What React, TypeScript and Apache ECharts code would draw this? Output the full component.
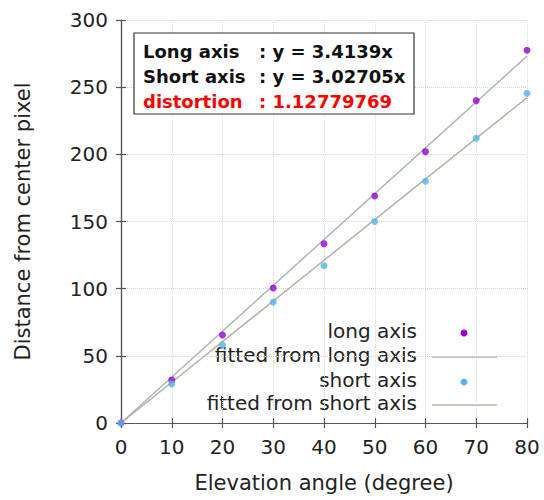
import React, { useEffect, useRef } from "react";
import * as echarts from "echarts";

const angles = [0, 10, 20, 30, 40, 50, 60, 70, 80];
const longAxis = [0, 32, 65.5, 100.5, 133.5, 169, 202, 240, 277.5];
const shortAxis = [0, 29, 58, 90, 117, 150, 180, 212, 245.5];
const fitX = [0, 80];
const fitLong = [0, 273.1];
const fitShort = [0, 242.2];
const legendNames = ["long axis", "fitted from long axis", "short axis", "fitted from short axis"];
const boxLabels = ["Long axis", "Short axis", "distortion"];
const boxValues = [": y = 3.4139x", ": y = 3.02705x", ": 1.12779769"];

const FONT = "DejaVu Sans, Liberation Sans, Arial, sans-serif";
const C_LONG = "#9400d3";
const C_SHORT = "#56b4e9";
const C_FIT_LONG = "#a9b8b8";
const C_FIT_SHORT = "#b9b0a2";

export default function App() {
  const ref = useRef<HTMLDivElement>(null);
  useEffect(() => {
    const chart = echarts.init(ref.current!, null, { renderer: "svg" });
    const axisLineStyle = { color: "#555", width: 1.2 };
    const gridStyle = { color: "#d8d8d8", type: "dotted" as const, width: 1 };
    const legendColors = [C_LONG, C_FIT_LONG, C_SHORT, C_FIT_SHORT];
    const legendY = [333, 357, 382, 405];
    const graphics: any[] = [];
    legendNames.forEach((n, i) => {
      graphics.push({
        type: "text",
        right: 544 - 417,
        top: legendY[i] - 12,
        style: { text: n, font: `20px ${FONT}`, fill: "#222", textAlign: "right" },
      });
      if (i % 2 === 0) {
        graphics.push({
          type: "circle",
          shape: { cx: 464, cy: legendY[i], r: 3.5 },
          style: { fill: legendColors[i] },
        });
      } else {
        graphics.push({
          type: "line",
          shape: { x1: 432, y1: legendY[i], x2: 497, y2: legendY[i] },
          style: { stroke: legendColors[i], lineWidth: 1.5 },
        });
      }
    });
    graphics.push({
      type: "rect",
      shape: { x: 134, y: 33, width: 280, height: 81 },
      style: { fill: "#fff", stroke: "#333", lineWidth: 1.2 },
      z: 10,
    });
    boxLabels.forEach((t, i) => {
      const col = i === 2 ? "#ff0000" : "#111";
      graphics.push({
        type: "text",
        left: 143,
        top: 42 + i * 25,
        z: 11,
        style: { text: t, font: `bold 18px ${FONT}`, fill: col },
      });
      graphics.push({
        type: "text",
        left: 259,
        top: 42 + i * 25,
        z: 11,
        style: { text: boxValues[i], font: `bold 18px ${FONT}`, fill: col },
      });
    });

    chart.setOption({
      animation: false,
      backgroundColor: "#fff",
      textStyle: { fontFamily: FONT },
      grid: { left: 121, right: 17, top: 20, bottom: 77 },
      xAxis: [
        {
          type: "value",
          min: 0,
          max: 80,
          interval: 10,
          name: "Elevation angle (degree)",
          nameLocation: "middle",
          nameGap: 49,
          nameTextStyle: { fontSize: 21, color: "#222", fontFamily: FONT },
          axisLine: { show: true, lineStyle: axisLineStyle },
          axisTick: { show: true, inside: true, length: 5, lineStyle: axisLineStyle },
          axisLabel: { fontSize: 20, color: "#222", margin: 14, fontFamily: FONT },
          splitLine: { show: true, lineStyle: gridStyle },
        },
        {
          type: "value",
          position: "top",
          min: 0,
          max: 80,
          interval: 10,
          axisLine: { show: true, lineStyle: axisLineStyle },
          axisTick: { show: true, inside: true, length: 5, lineStyle: axisLineStyle },
          axisLabel: { show: false },
          splitLine: { show: false },
        },
      ],
      yAxis: [
        {
          type: "value",
          min: 0,
          max: 300,
          interval: 50,
          name: "Distance from center pixel",
          nameLocation: "middle",
          nameGap: 88,
          nameTextStyle: { fontSize: 21, color: "#222", fontFamily: FONT },
          axisLine: { show: true, lineStyle: axisLineStyle },
          axisTick: { show: true, inside: true, length: 5, lineStyle: axisLineStyle },
          axisLabel: { fontSize: 20, color: "#222", margin: 13, fontFamily: FONT },
          splitLine: { show: true, lineStyle: gridStyle },
        },
        {
          type: "value",
          position: "right",
          min: 0,
          max: 300,
          interval: 50,
          axisLine: { show: true, lineStyle: axisLineStyle },
          axisTick: { show: true, inside: true, length: 5, lineStyle: axisLineStyle },
          axisLabel: { show: false },
          splitLine: { show: false },
        },
      ],
      series: [
        {
          name: legendNames[1],
          type: "line",
          data: fitX.map((x, i) => [x, fitLong[i]]),
          showSymbol: false,
          lineStyle: { color: C_FIT_LONG, width: 1.5 },
          z: 2,
        },
        {
          name: legendNames[3],
          type: "line",
          data: fitX.map((x, i) => [x, fitShort[i]]),
          showSymbol: false,
          lineStyle: { color: C_FIT_SHORT, width: 1.5 },
          z: 2,
        },
        {
          name: legendNames[0],
          type: "scatter",
          data: angles.map((x, i) => [x, longAxis[i]]),
          symbolSize: 7,
          itemStyle: { color: C_LONG },
          z: 3,
        },
        {
          name: legendNames[2],
          type: "scatter",
          data: angles.map((x, i) => [x, shortAxis[i]]),
          symbolSize: 7,
          itemStyle: { color: C_SHORT },
          z: 4,
        },
      ],
      graphic: graphics,
    });
    return () => chart.dispose();
  }, []);
  return <div ref={ref} style={{ width: 544, height: 500, position: "absolute", left: 0, top: 0 }} />;
}
